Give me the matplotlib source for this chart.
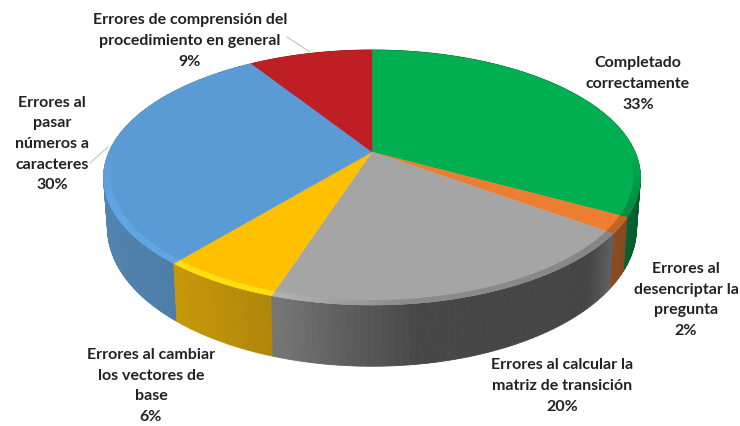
import numpy as np
import matplotlib
matplotlib.use('Agg')
import matplotlib.pyplot as plt

# porcentajes, en sentido horario desde arriba
labels = ['Completado\ncorrectamente', 'Errores al\ndesencriptar la\npregunta',
          'Errores al calcular la\nmatriz de transición', 'Errores al cambiar\nlos vectores de\nbase',
          'Errores al\npasar\nnúmeros a\ncaracteres', 'Errores de comprensión del\nprocedimiento en general']
values = [33, 2, 20, 6, 30, 9]
colors = ['#00b050', '#ed7d31', '#a5a5a5', '#ffc000', '#5b9bd5', '#bf1e24']
label_pos = [(638, 84), (686, 300), (562, 386), (151, 386), (52, 144), (190, 41)]

# parametros de la perspectiva (pixeles)
CX, CY = 372, 152
A, B, K = 263, 122.4, 0.20
DEPTH = 49


def project(r, t, z=0.0):
    X, Y = r*np.cos(t), r*np.sin(t)
    w = 1 + K*Y
    shrink = 1 - 0.015*z
    return CX + A*X/w*shrink, CY - B*Y/w + z*DEPTH/w


def shade(x):
    # la pared se oscurece hacia la derecha
    return np.interp(x, [103, 180, 285, 340, 420, 590, 615, 640],
                     [0.85, 0.80, 0.70, 0.58, 0.43, 0.42, 0.60, 0.55])


def scale(color, f):
    rgb = np.array(matplotlib.colors.to_rgb(color))
    return tuple(np.clip(rgb*f, 0, 1))


fig = plt.figure(figsize=(7.4, 4.26), dpi=100)
ax = fig.add_axes([0, 0, 1, 1])
ax.set_xlim(0, 740)
ax.set_ylim(426, 0)
ax.axis('off')

fracs = np.cumsum([0] + values)/sum(values)
angles = np.pi/2 - 2*np.pi*fracs

# pared lateral, de atras hacia delante
strips = []
for i, c in enumerate(colors):
    edges = np.linspace(angles[i], angles[i+1], max(3, values[i]*3))
    for t0, t1 in zip(edges[:-1], edges[1:]):
        strips.append((np.sin((t0+t1)/2), t0, t1, c))
strips.sort(key=lambda s: -s[0])
for _, t0, t1, c in strips:
    tt = np.linspace(t0, t1, 4)
    x0, y0 = project(1, tt)
    x1, y1 = project(1, tt, 1)
    col = np.array(scale(c, shade(x0.mean())))
    col = col*0.92 + col.mean()*0.08
    ax.fill(np.r_[x0, x1[::-1]], np.r_[y0, y1[::-1]], color=tuple(col), lw=0.6)

# cara superior
for i, c in enumerate(colors):
    tt = np.linspace(angles[i], angles[i+1], 120)
    x, y = project(1, tt)
    ax.fill(np.r_[CX, x], np.r_[CY, y], color=c, lw=0.3)

# bisel del borde
for i, c in enumerate(colors):
    edges = np.linspace(angles[i], angles[i+1], max(3, values[i]*3))
    for t0, t1 in zip(edges[:-1], edges[1:]):
        s = np.sin((t0+t1)/2)
        if s > 0.0:
            continue
        tt = np.linspace(t0, t1, 4)
        x0, y0 = project(0.975, tt)
        x1, y1 = project(1, tt)
        f = np.interp(x0.mean(), [103, 285, 400, 640], [1.07, 1.07, 0.85, 0.8])
        f = 1 + (f - 1)*min(1, -s/0.4)
        col = scale(c, f)
        if c == '#ffc000':
            col = '#ffdf10'
        ax.fill(np.r_[x0, x1[::-1]], np.r_[y0, y1[::-1]], color=col, lw=0.3)

# lineas guia
ax.plot([287, 310], [37, 52], color='#c4c4c4', lw=0.8)
ax.plot([90, 108], [163, 147], color='#c4c4c4', lw=0.8)

for lab, v, (tx, ty) in zip(labels, values, label_pos):
    ax.text(tx, ty, f'{lab}\n{v}%', ha='center', va='center', fontsize=11.5,
            family='Lato', weight='bold', color='#222222', linespacing=1.6)

fig.savefig('out.png', dpi=100)
